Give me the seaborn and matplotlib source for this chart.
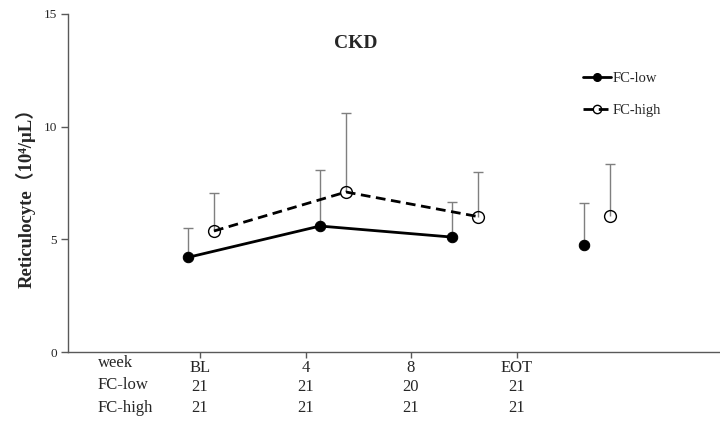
import numpy as np
import pandas as pd
import matplotlib
matplotlib.use("Agg")
import matplotlib.pyplot as plt
import seaborn as sns
from matplotlib.lines import Line2D

# ---- data ----
weeks = ["BL", "4", "8", "EOT"]
fc_low_mean = [4.20, 5.59, 5.10, 4.75]
fc_low_sd = [1.29, 2.47, 1.57, 1.88]
fc_high_mean = [5.37, 7.10, 6.01, 6.05]
fc_high_sd = [1.67, 3.49, 1.99, 2.29]
n_low = [21, 21, 20, 21]
n_high = [21, 21, 21, 21]
row_labels = ["week", "FC-low", "FC-high"]
yticks = [0, 5, 10, 15]

sns.set_style("white")
plt.rcParams["font.family"] = ["Liberation Serif", "DejaVu Serif"]

fig = plt.figure(figsize=(7.2, 4.23), dpi=100)
ax = fig.add_axes([68 / 720, 1 - 352 / 423, 652 / 720, 338 / 423])

PX = 105.5  # pixels per x unit (table tick spacing)
tick_pos = np.arange(1, len(weeks) + 1)
idx = np.arange(len(weeks))
# plotted points use a wider spacing than the table ticks
x_low = 1 - 12 / PX + idx * 132 / PX
x_high = x_low + 26 / PX
seg = ["a", "a", "a", "b"]  # EOT not connected

df_low = pd.DataFrame({"x": x_low, "y": fc_low_mean, "seg": seg})
df_high = pd.DataFrame({"x": x_high, "y": fc_high_mean, "seg": seg})

dash = (0, (3.5, 2))

# error bars (upper only)
for xs, m, sd in [(x_low, fc_low_mean, fc_low_sd), (x_high, fc_high_mean, fc_high_sd)]:
    eb = ax.errorbar(xs, m, yerr=[np.zeros(len(sd)), sd], fmt="none",
                     ecolor="#7f7f7f", elinewidth=1, capsize=3.5, capthick=1, zorder=2)
    eb[1][0].set_visible(False)

sns.lineplot(data=df_low, x="x", y="y", units="seg", estimator=None, ax=ax,
             color="black", lw=2, marker="o", markersize=7.5,
             markerfacecolor="black", markeredgecolor="black", zorder=3)
sns.lineplot(data=df_high, x="x", y="y", units="seg", estimator=None, ax=ax,
             color="black", lw=2, linestyle=dash, marker="o", markersize=8.5,
             markerfacecolor="none", markeredgecolor="black", markeredgewidth=1, zorder=3)

ax.set_xlim(1 - 132 / PX, 1 + 520 / PX)
ax.set_ylim(0, 15)
ax.set_yticks(yticks)
ax.set_xticks(tick_pos, weeks)
ax.set_xlabel("")
ax.set_ylabel("")
for s in ["top", "right"]:
    ax.spines[s].set_visible(False)
for s in ["left", "bottom"]:
    ax.spines[s].set_color("#595959")
    ax.spines[s].set_linewidth(1)
ax.tick_params(axis="y", direction="out", length=5, width=1, color="#595959",
               labelsize=9.5, pad=3, left=True)
ax.tick_params(axis="x", direction="out", length=4, width=1, color="#595959",
               labelsize=12, pad=1.5, bottom=True)

# table below axis
tr = ax.get_xaxis_transform()
ax_h = 338
row_y = [(352 - 363) / ax_h, (352 - 385) / ax_h, (352 - 408) / ax_h]
label_x = 1 + (98 - 200) / PX
for lab, yy in zip(row_labels, row_y):
    ax.text(label_x, yy, lab, transform=tr, ha="left", va="center", fontsize=12,
            clip_on=False)
for xp, nl, nh in zip(tick_pos, n_low, n_high):
    ax.text(xp, (352 - 387) / ax_h, str(nl), transform=tr, ha="center", va="center",
            fontsize=12, clip_on=False)
    ax.text(xp, (352 - 408) / ax_h, str(nh), transform=tr, ha="center", va="center",
            fontsize=12, clip_on=False)

# title & y label
fig.text(356 / 720, 1 - 44 / 423, "CKD", ha="center", va="center",
         fontsize=14, fontweight="bold")
fig.text(26 / 720, 1 - 193 / 423, "Reticulocyte（10⁴/μL）", rotation=90,
         ha="center", va="center", fontsize=13.5, fontweight="bold",
         family=["Liberation Serif", "Noto Sans CJK JP", "DejaVu Sans"])

handles = [
    Line2D([], [], color="black", lw=2, marker="o", markersize=5.5,
           markerfacecolor="black", markeredgecolor="black"),
    Line2D([], [], color="black", lw=2, linestyle=dash, marker="o", markersize=6,
           markerfacecolor="none", markeredgecolor="black", markeredgewidth=1),
]
ax.legend(handles, ["FC-low", "FC-high"], loc="upper left",
          bbox_to_anchor=(583 / 720, 1 - 72 / 423), bbox_transform=fig.transFigure,
          frameon=False, fontsize=10.5, handlelength=1.9, handletextpad=0.1,
          labelspacing=1.3, borderpad=0, borderaxespad=0)

fig.savefig("out.png", dpi=100)
